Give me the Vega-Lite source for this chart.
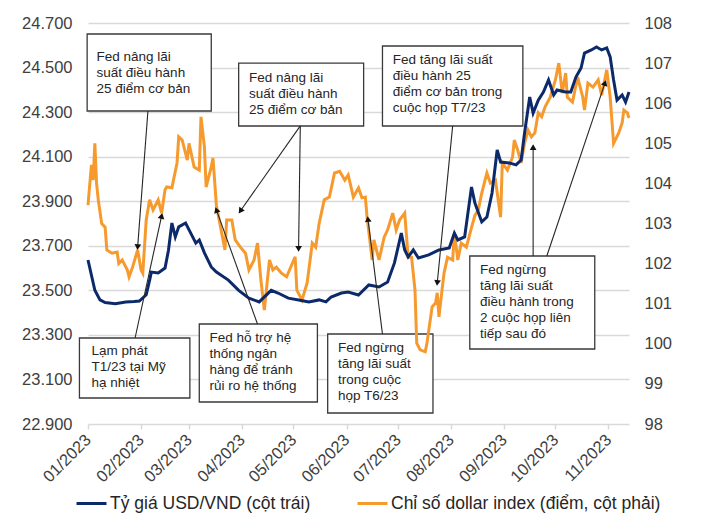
{
  "$schema": "https://vega.github.io/schema/vega-lite/v6.json",
  "width": 541,
  "height": 401,
  "autosize": "none",
  "padding": {"left": 88, "top": 23, "right": 79, "bottom": 90},
  "background": "white",
  "datasets": {
    "usd": [
      {"date": "2023-01-01", "v": 23636}, {"date": "2023-01-05", "v": 23500}, {"date": "2023-01-08", "v": 23457},
      {"date": "2023-01-11", "v": 23445}, {"date": "2023-01-17", "v": 23440}, {"date": "2023-01-23", "v": 23448},
      {"date": "2023-01-28", "v": 23450}, {"date": "2023-01-31", "v": 23452}, {"date": "2023-02-04", "v": 23480},
      {"date": "2023-02-06", "v": 23546}, {"date": "2023-02-07", "v": 23582}, {"date": "2023-02-11", "v": 23578},
      {"date": "2023-02-15", "v": 23600}, {"date": "2023-02-17", "v": 23680}, {"date": "2023-02-19", "v": 23802},
      {"date": "2023-02-21", "v": 23740}, {"date": "2023-02-23", "v": 23785}, {"date": "2023-02-27", "v": 23802},
      {"date": "2023-03-02", "v": 23757}, {"date": "2023-03-05", "v": 23712}, {"date": "2023-03-07", "v": 23726},
      {"date": "2023-03-10", "v": 23668}, {"date": "2023-03-14", "v": 23605}, {"date": "2023-03-17", "v": 23582},
      {"date": "2023-03-24", "v": 23546}, {"date": "2023-03-30", "v": 23500}, {"date": "2023-04-05", "v": 23465},
      {"date": "2023-04-11", "v": 23448}, {"date": "2023-04-18", "v": 23500}, {"date": "2023-04-22", "v": 23488},
      {"date": "2023-04-28", "v": 23465}, {"date": "2023-05-04", "v": 23457}, {"date": "2023-05-10", "v": 23448},
      {"date": "2023-05-16", "v": 23457}, {"date": "2023-05-20", "v": 23448}, {"date": "2023-05-23", "v": 23470},
      {"date": "2023-05-29", "v": 23488}, {"date": "2023-06-02", "v": 23492}, {"date": "2023-06-08", "v": 23479},
      {"date": "2023-06-14", "v": 23524}, {"date": "2023-06-20", "v": 23515}, {"date": "2023-06-25", "v": 23537},
      {"date": "2023-06-29", "v": 23623}, {"date": "2023-07-03", "v": 23757}, {"date": "2023-07-05", "v": 23681},
      {"date": "2023-07-07", "v": 23650}, {"date": "2023-07-10", "v": 23681}, {"date": "2023-07-13", "v": 23645},
      {"date": "2023-07-19", "v": 23659}, {"date": "2023-07-25", "v": 23681}, {"date": "2023-07-31", "v": 23690},
      {"date": "2023-08-03", "v": 23757}, {"date": "2023-08-05", "v": 23726}, {"date": "2023-08-09", "v": 23740},
      {"date": "2023-08-13", "v": 23964}, {"date": "2023-08-15", "v": 23892}, {"date": "2023-08-19", "v": 23807},
      {"date": "2023-08-22", "v": 23829}, {"date": "2023-08-25", "v": 23937}, {"date": "2023-08-28", "v": 24130},
      {"date": "2023-08-30", "v": 24076}, {"date": "2023-09-04", "v": 24072}, {"date": "2023-09-08", "v": 24063},
      {"date": "2023-09-11", "v": 24085}, {"date": "2023-09-13", "v": 24206}, {"date": "2023-09-16", "v": 24368},
      {"date": "2023-09-18", "v": 24296}, {"date": "2023-09-21", "v": 24354}, {"date": "2023-09-24", "v": 24390},
      {"date": "2023-09-27", "v": 24444}, {"date": "2023-09-30", "v": 24377}, {"date": "2023-10-02", "v": 24399},
      {"date": "2023-10-07", "v": 24390}, {"date": "2023-10-10", "v": 24390}, {"date": "2023-10-13", "v": 24457},
      {"date": "2023-10-16", "v": 24498}, {"date": "2023-10-18", "v": 24565}, {"date": "2023-10-22", "v": 24579},
      {"date": "2023-10-25", "v": 24592}, {"date": "2023-10-28", "v": 24579}, {"date": "2023-10-31", "v": 24588},
      {"date": "2023-11-02", "v": 24548}, {"date": "2023-11-04", "v": 24444}, {"date": "2023-11-06", "v": 24354},
      {"date": "2023-11-09", "v": 24377}, {"date": "2023-11-11", "v": 24345}, {"date": "2023-11-13", "v": 24390}
    ],
    "dxy": [
      {"date": "2023-01-01", "v": 103.46}, {"date": "2023-01-03", "v": 104.46}, {"date": "2023-01-04", "v": 104.08},
      {"date": "2023-01-05", "v": 105.0}, {"date": "2023-01-06", "v": 104.0}, {"date": "2023-01-07", "v": 103.59},
      {"date": "2023-01-09", "v": 103.0}, {"date": "2023-01-11", "v": 102.91}, {"date": "2023-01-12", "v": 102.34},
      {"date": "2023-01-15", "v": 102.26}, {"date": "2023-01-18", "v": 102.29}, {"date": "2023-01-19", "v": 102.0},
      {"date": "2023-01-21", "v": 102.09}, {"date": "2023-01-24", "v": 101.84}, {"date": "2023-01-25", "v": 101.67},
      {"date": "2023-01-27", "v": 101.91}, {"date": "2023-01-30", "v": 102.34}, {"date": "2023-02-01", "v": 101.84},
      {"date": "2023-02-02", "v": 101.76}, {"date": "2023-02-04", "v": 103.09}, {"date": "2023-02-06", "v": 103.59},
      {"date": "2023-02-08", "v": 103.34}, {"date": "2023-02-11", "v": 103.59}, {"date": "2023-02-13", "v": 103.26},
      {"date": "2023-02-15", "v": 103.84}, {"date": "2023-02-16", "v": 103.91}, {"date": "2023-02-19", "v": 103.89},
      {"date": "2023-02-22", "v": 104.51}, {"date": "2023-02-23", "v": 105.16}, {"date": "2023-02-25", "v": 105.08},
      {"date": "2023-02-28", "v": 104.58}, {"date": "2023-03-01", "v": 105.0}, {"date": "2023-03-04", "v": 104.41},
      {"date": "2023-03-07", "v": 104.33}, {"date": "2023-03-08", "v": 105.66}, {"date": "2023-03-10", "v": 104.91},
      {"date": "2023-03-11", "v": 103.91}, {"date": "2023-03-14", "v": 104.41}, {"date": "2023-03-15", "v": 104.63},
      {"date": "2023-03-17", "v": 103.45}, {"date": "2023-03-22", "v": 102.34}, {"date": "2023-03-23", "v": 103.09},
      {"date": "2023-03-26", "v": 103.09}, {"date": "2023-03-28", "v": 102.59}, {"date": "2023-03-31", "v": 102.41},
      {"date": "2023-04-03", "v": 102.26}, {"date": "2023-04-05", "v": 101.84}, {"date": "2023-04-08", "v": 102.09},
      {"date": "2023-04-10", "v": 102.51}, {"date": "2023-04-12", "v": 101.59}, {"date": "2023-04-14", "v": 100.84},
      {"date": "2023-04-17", "v": 102.09}, {"date": "2023-04-19", "v": 101.84}, {"date": "2023-04-21", "v": 101.91},
      {"date": "2023-04-24", "v": 101.76}, {"date": "2023-04-27", "v": 101.67}, {"date": "2023-05-02", "v": 102.17},
      {"date": "2023-05-03", "v": 101.34}, {"date": "2023-05-06", "v": 101.09}, {"date": "2023-05-09", "v": 101.52},
      {"date": "2023-05-12", "v": 102.51}, {"date": "2023-05-14", "v": 102.41}, {"date": "2023-05-16", "v": 103.0},
      {"date": "2023-05-19", "v": 103.59}, {"date": "2023-05-22", "v": 103.66}, {"date": "2023-05-25", "v": 104.26},
      {"date": "2023-05-28", "v": 104.3}, {"date": "2023-05-31", "v": 104.08}, {"date": "2023-06-02", "v": 104.21},
      {"date": "2023-06-05", "v": 103.66}, {"date": "2023-06-08", "v": 103.89}, {"date": "2023-06-10", "v": 103.64},
      {"date": "2023-06-12", "v": 103.66}, {"date": "2023-06-13", "v": 103.16}, {"date": "2023-06-16", "v": 102.09},
      {"date": "2023-06-17", "v": 102.59}, {"date": "2023-06-20", "v": 102.09}, {"date": "2023-06-23", "v": 102.66},
      {"date": "2023-06-25", "v": 102.84}, {"date": "2023-06-28", "v": 103.26}, {"date": "2023-06-30", "v": 102.84},
      {"date": "2023-07-02", "v": 103.09}, {"date": "2023-07-05", "v": 103.26}, {"date": "2023-07-07", "v": 102.16},
      {"date": "2023-07-09", "v": 102.16}, {"date": "2023-07-11", "v": 101.34}, {"date": "2023-07-12", "v": 100.02},
      {"date": "2023-07-14", "v": 99.85}, {"date": "2023-07-17", "v": 99.8}, {"date": "2023-07-18", "v": 100.02},
      {"date": "2023-07-21", "v": 100.92}, {"date": "2023-07-23", "v": 101.02}, {"date": "2023-07-24", "v": 101.27},
      {"date": "2023-07-25", "v": 100.67}, {"date": "2023-07-27", "v": 101.42}, {"date": "2023-07-28", "v": 101.77},
      {"date": "2023-07-30", "v": 102.16}, {"date": "2023-08-02", "v": 102.09}, {"date": "2023-08-03", "v": 102.76},
      {"date": "2023-08-05", "v": 102.09}, {"date": "2023-08-07", "v": 102.51}, {"date": "2023-08-10", "v": 102.41},
      {"date": "2023-08-13", "v": 102.9}, {"date": "2023-08-15", "v": 103.2}, {"date": "2023-08-17", "v": 103.34},
      {"date": "2023-08-19", "v": 103.76}, {"date": "2023-08-22", "v": 104.26}, {"date": "2023-08-24", "v": 104.01},
      {"date": "2023-08-27", "v": 104.08}, {"date": "2023-08-30", "v": 103.16}, {"date": "2023-08-31", "v": 104.51},
      {"date": "2023-09-03", "v": 104.33}, {"date": "2023-09-06", "v": 104.66}, {"date": "2023-09-07", "v": 105.08},
      {"date": "2023-09-09", "v": 104.83}, {"date": "2023-09-11", "v": 104.51}, {"date": "2023-09-13", "v": 105.0},
      {"date": "2023-09-15", "v": 105.33}, {"date": "2023-09-17", "v": 105.16}, {"date": "2023-09-19", "v": 105.26},
      {"date": "2023-09-21", "v": 105.76}, {"date": "2023-09-23", "v": 105.66}, {"date": "2023-09-25", "v": 105.91},
      {"date": "2023-09-28", "v": 106.15}, {"date": "2023-10-01", "v": 106.58}, {"date": "2023-10-03", "v": 107.0},
      {"date": "2023-10-05", "v": 106.25}, {"date": "2023-10-07", "v": 106.75}, {"date": "2023-10-08", "v": 106.15},
      {"date": "2023-10-11", "v": 106.03}, {"date": "2023-10-14", "v": 106.65}, {"date": "2023-10-17", "v": 106.15},
      {"date": "2023-10-18", "v": 105.83}, {"date": "2023-10-20", "v": 106.5}, {"date": "2023-10-23", "v": 106.4},
      {"date": "2023-10-26", "v": 106.58}, {"date": "2023-10-28", "v": 106.2}, {"date": "2023-10-31", "v": 106.83},
      {"date": "2023-11-02", "v": 106.15}, {"date": "2023-11-04", "v": 105.0}, {"date": "2023-11-07", "v": 105.26},
      {"date": "2023-11-09", "v": 105.51}, {"date": "2023-11-10", "v": 105.83}, {"date": "2023-11-12", "v": 105.76},
      {"date": "2023-11-13", "v": 105.63}
    ],
    "boxes": [
      {"x1": "2022-12-31T12:00:00", "x2": "2023-03-14", "y1": 107.726, "y2": 105.805},
      {"x1": "2023-03-30", "x2": "2023-06-11", "y1": 107.0, "y2": 105.431},
      {"x1": "2023-06-22", "x2": "2023-09-12", "y1": 107.426, "y2": 105.431},
      {"x1": "2023-08-12", "x2": "2023-10-24", "y1": 102.19, "y2": 99.87},
      {"x1": "2022-12-27", "x2": "2023-03-01T12:00:00", "y1": 100.145, "y2": 98.648},
      {"x1": "2023-03-07", "x2": "2023-05-15", "y1": 100.494, "y2": 98.549},
      {"x1": "2023-05-21", "x2": "2023-07-21T12:00:00", "y1": 100.244, "y2": 98.274}
    ],
    "notes": [
      {"x": "2023-01-06", "y": 24547, "t": "Fed nâng lãi\nsuất điều hành\n25 điểm cơ bản"},
      {"x": "2023-04-05", "y": 24453, "t": "Fed nâng lãi\nsuất điều hành\n25 điểm cơ bản"},
      {"x": "2023-06-28", "y": 24534, "t": "Fed tăng lãi suất\nđiều hành 25\nđiểm cơ bản trong\ncuộc họp T7/23"},
      {"x": "2023-08-18", "y": 23591, "t": "Fed ngừng\ntăng lãi suất\nđiều hành trong\n2 cuộc họp liên\ntiếp sau đó"},
      {"x": "2023-01-03", "y": 23228, "t": "Lạm phát\nT1/23 tại Mỹ\nhạ nhiệt"},
      {"x": "2023-03-13", "y": 23286, "t": "Fed hỗ trợ hệ\nthống ngân\nhàng để tránh\nrủi ro hệ thống"},
      {"x": "2023-05-27", "y": 23241, "t": "Fed ngừng\ntăng lãi suất\ntrong cuộc\nhọp T6/23"}
    ],
    "arrows": [
      {"x1": "2023-02-05", "y1": 24305, "x2": "2023-01-30", "y2": 23694},
      {"x1": "2023-05-05", "y1": 24238, "x2": "2023-03-31", "y2": 23856},
      {"x1": "2023-05-05", "y1": 24238, "x2": "2023-05-04", "y2": 23686},
      {"x1": "2023-08-02", "y1": 24238, "x2": "2023-07-24", "y2": 23533},
      {"x1": "2023-09-18", "y1": 23654, "x2": "2023-09-18", "y2": 24143},
      {"x1": "2023-09-26", "y1": 23654, "x2": "2023-10-30", "y2": 24431},
      {"x1": "2023-01-28T12:00:00", "y1": 23286, "x2": "2023-02-13", "y2": 23834},
      {"x1": "2023-04-10", "y1": 23349, "x2": "2023-03-17", "y2": 23861},
      {"x1": "2023-06-22", "y1": 23304, "x2": "2023-06-13T12:00:00", "y2": 23820}
    ]
  },
  "layer": [
    {
      "layer": [
        {
          "data": {"name": "boxes"},
          "mark": {"type": "rect", "fill": "white", "stroke": "#3a3a3a", "strokeWidth": 1.3, "clip": false},
          "encoding": {
            "x": {"field": "x1", "type": "temporal", "title": null},
            "x2": {"field": "x2"},
            "y": {"field": "y1", "type": "quantitative", "title": null},
            "y2": {"field": "y2"}
          }
        },
        {
          "data": {"name": "dxy"},
          "mark": {"type": "line", "strokeWidth": 3, "clip": false},
          "encoding": {
            "x": {
              "field": "date", "type": "temporal", "title": null,
              "scale": {"domain": ["2023-01-01", "2023-11-13"]},
              "axis": {
                "format": "%m/%Y", "tickCount": {"interval": "month", "step": 1},
                "labelAngle": -45, "labelAlign": "right", "labelBaseline": "middle",
                "labelPadding": 8, "tickSize": 5, "tickColor": "#d9d9d9", "tickWidth": 1.5,
                "domain": false, "grid": false, "labelFlush": false, "labelOverlap": false
              }
            },
            "y": {
              "field": "v", "type": "quantitative", "title": null,
              "scale": {"domain": [98, 108], "nice": false, "zero": false},
              "axis": {
                "orient": "right", "values": [98, 99, 100, 101, 102, 103, 104, 105, 106, 107, 108],
                "grid": false, "ticks": false, "domain": false, "labelPadding": 15
              }
            },
            "color": {
              "datum": "Chỉ số dollar index (điểm, cột phải)",
              "scale": {
                "domain": ["Tỷ giá USD/VND (cột trái)", "Chỉ số dollar index (điểm, cột phải)"],
                "range": ["#0c2a6b", "#f79a2e"]
              },
              "legend": {
                "orient": "none", "legendX": -13, "legendY": 464, "direction": "horizontal",
                "title": null, "symbolType": "stroke", "symbolSize": 900, "symbolStrokeWidth": 3,
                "labelFontSize": 17.5, "labelColor": "#262626", "labelOffset": 2,
                "columnPadding": 40, "labelLimit": 400
              }
            }
          }
        }
      ]
    },
    {
      "layer": [
        {
          "data": {"name": "usd"},
          "mark": {"type": "line", "strokeWidth": 3, "clip": false},
          "encoding": {
            "x": {"field": "date", "type": "temporal", "title": null},
            "y": {
              "field": "v", "type": "quantitative", "title": null,
              "scale": {"domain": [22900, 24700], "nice": false, "zero": false},
              "axis": {
                "orient": "left",
                "values": [22900, 23100, 23300, 23500, 23700, 23900, 24100, 24300, 24500, 24700],
                "labelExpr": "replace(format(datum.value, ','), ',', '.')",
                "grid": true, "gridColor": "#d9d9d9", "gridWidth": 1.5,
                "ticks": false, "domain": false, "labelPadding": 16
              }
            },
            "color": {"datum": "Tỷ giá USD/VND (cột trái)"}
          }
        },
        {
          "data": {"name": "arrows"},
          "mark": {"type": "rule", "color": "#262626", "strokeWidth": 1.1, "clip": false},
          "encoding": {
            "x": {"field": "x1", "type": "temporal", "title": null},
            "x2": {"field": "x2"},
            "y": {"field": "y1", "type": "quantitative", "title": null},
            "y2": {"field": "y2"}
          }
        },
        {
          "data": {"name": "arrows"},
          "transform": [
            {"calculate": "atan2(((toDate(datum.x2) - toDate(datum.x1)) / 86400000) * 1.712, (datum.y2 - datum.y1) / 4.489) * 180 / PI", "as": "heading"}
          ],
          "mark": {"type": "point", "shape": "triangle-up", "filled": true, "color": "#111111", "opacity": 1, "size": 45, "clip": false},
          "encoding": {
            "x": {"field": "x2", "type": "temporal", "title": null},
            "y": {"field": "y2", "type": "quantitative", "title": null},
            "angle": {"field": "heading", "type": "quantitative", "scale": null}
          }
        },
        {
          "data": {"name": "notes"},
          "mark": {"type": "text", "align": "left", "baseline": "middle", "lineBreak": "\n", "lineHeight": 16, "fontSize": 13.5, "color": "#262626", "clip": false},
          "encoding": {
            "x": {"field": "x", "type": "temporal", "title": null},
            "y": {"field": "y", "type": "quantitative", "title": null},
            "text": {"field": "t"}
          }
        }
      ]
    }
  ],
  "resolve": {"scale": {"y": "independent"}},
  "config": {
    "font": "Liberation Sans",
    "view": {"stroke": null},
    "axis": {"labelFont": "Liberation Sans", "labelFontSize": 16.5, "labelColor": "#404040"},
    "legend": {"labelFont": "Liberation Sans"},
    "text": {"font": "Liberation Sans"}
  }
}
